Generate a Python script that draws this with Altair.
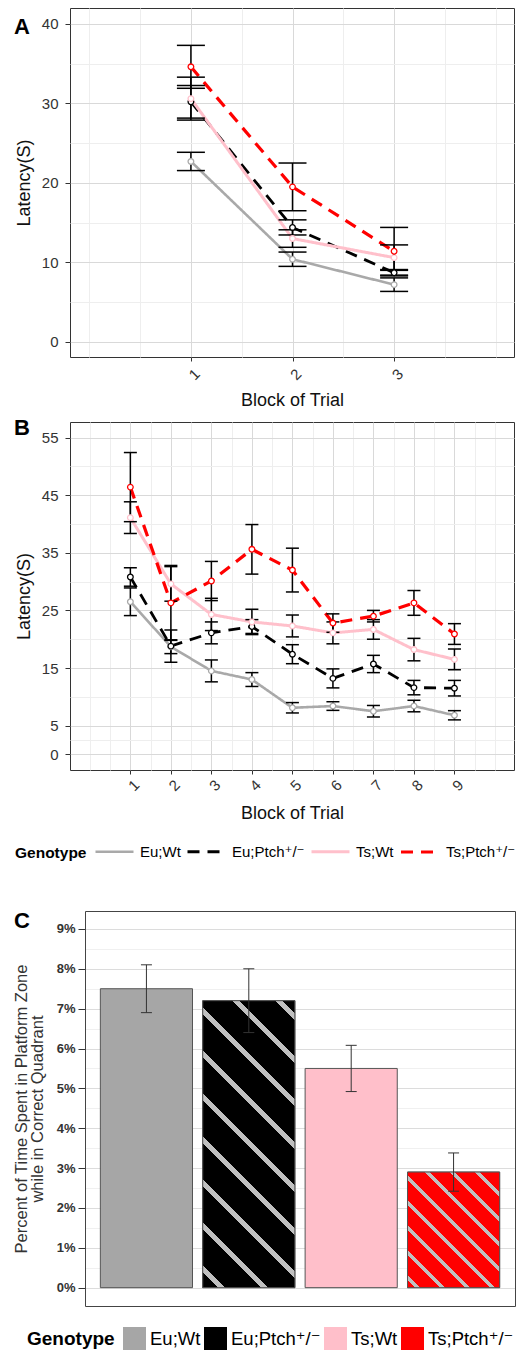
import altair as alt
import pandas as pd

FONT = "Liberation Sans, DejaVu Sans, sans-serif"
INK = "#111111"
DARK = "#333333"
GRID_MAJOR = "#d9d9d9"
GRID_MINOR = "#eeeeee"

genotypes = ["Eu;Wt", "Eu;Ptch⁺/⁻", "Ts;Wt", "Ts;Ptch⁺/⁻"]
line_colors = ["#a9a9a9", "#000000", "#ffc0cb", "#ff0000"]
line_dashes = [[1, 0], [12, 8], [1, 0], [12, 8]]
line_widths = [2.6, 3.2, 2.6, 3.2]
bar_colors = ["#a6a6a6", "#000000", "#ffbfca", "#ff0000"]
stripe_color = "#c0c0c0"

# ---------------- Panel A ----------------
blocks_a = [1, 2, 3]
a_eu_wt = [22.7, 10.4, 7.2]
a_eu_wt_se = [1.15, 0.9, 0.85]
a_eu_ptch = [30.2, 14.4, 8.7]
a_eu_ptch_se = [2.05, 0.95, 0.4]
a_ts_wt = [30.6, 13.0, 10.6]
a_ts_wt_se = [2.7, 1.1, 1.6]
a_ts_ptch = [34.6, 19.5, 11.4]
a_ts_ptch_se = [2.7, 3.0, 3.0]

# ---------------- Panel B ----------------
blocks_b = [1, 2, 3, 4, 5, 6, 7, 8, 9]
b_eu_wt = [26.5, 18.7, 14.5, 13.0, 8.1, 8.4, 7.5, 8.4, 6.8]
b_eu_wt_se = [2.4, 1.2, 1.9, 1.2, 0.9, 0.75, 1.0, 1.0, 0.8]
b_eu_ptch = [30.8, 18.8, 21.1, 22.2, 17.4, 13.2, 15.7, 11.6, 11.5]
b_eu_ptch_se = [1.6, 2.8, 1.9, 1.2, 1.65, 1.65, 1.5, 1.25, 1.35]
b_ts_wt = [41.1, 29.6, 24.3, 23.0, 22.3, 21.1, 21.7, 18.2, 16.5]
b_ts_wt_se = [2.75, 3.0, 2.8, 2.2, 1.9, 1.9, 1.7, 1.95, 1.8]
b_ts_ptch = [46.4, 26.3, 30.1, 35.6, 32.0, 22.8, 24.0, 26.3, 20.9]
b_ts_ptch_se = [6.0, 6.5, 3.4, 4.3, 3.8, 1.6, 1.0, 2.15, 1.8]

# ---------------- Panel C ----------------
c_pct = [0.075, 0.072, 0.055, 0.029]
c_se = [0.006, 0.008, 0.0058, 0.0048]

# axis tick values
a_xticks = [1, 2, 3]
a_xminor = [0, 0.5, 1.5, 2.5, 3.5, 4]
a_yticks = [0, 10, 20, 30, 40]
a_yminor = [5, 15, 25, 35]
b_xticks = blocks_b
b_xminor = [0, 0.5, 1.5, 2.5, 3.5, 4.5, 5.5, 6.5, 7.5, 8.5, 9.5, 10]
b_yticks = [0, 5, 15, 25, 35, 45, 55]
b_yminor = [2.5, 10, 20, 30, 40, 50]
c_yticks = [0, 0.01, 0.02, 0.03, 0.04, 0.05, 0.06, 0.07, 0.08, 0.09]
c_yminor = [0.005, 0.015, 0.025, 0.035, 0.045, 0.055, 0.065, 0.075, 0.085]


def long_df(blocks, means, ses):
    rows = []
    for g, vals, se in zip(genotypes, means, ses):
        for b, v, s in zip(blocks, vals, se):
            rows.append({"block": b, "mean": v, "lo": v - s, "hi": v + s, "Genotype": g})
    return pd.DataFrame(rows)


df_a = long_df(blocks_a, [a_eu_wt, a_eu_ptch, a_ts_wt, a_ts_ptch],
               [a_eu_wt_se, a_eu_ptch_se, a_ts_wt_se, a_ts_ptch_se])
df_b = long_df(blocks_b, [b_eu_wt, b_eu_ptch, b_ts_wt, b_ts_ptch],
               [b_eu_wt_se, b_eu_ptch_se, b_ts_wt_se, b_ts_ptch_se])
df_c = pd.DataFrame({
    "Genotype": genotypes,
    "pct": c_pct,
    "lo": [v - s for v, s in zip(c_pct, c_se)],
    "hi": [v + s for v, s in zip(c_pct, c_se)],
})
one_row = pd.DataFrame({"k": [0]})


def stripe_grad(w, h, base_color, n, frac, phase, stripe=stripe_color):
    """Diagonal (45 degree) stripes as a hard-stop linear gradient in bbox units."""
    c = (w + h) / (w * w + h * h)
    stops = [alt.GradientStop(color=base_color, offset=0.0)]
    period = 1.0 / n
    k = -1
    while (k + phase) * period < 1:
        s = (k + phase) * period
        e = s + frac * period
        s2, e2 = round(max(s, 0.0), 5), round(min(e, 1.0), 5)
        if e2 > s2:
            stops += [alt.GradientStop(color=base_color, offset=s2),
                      alt.GradientStop(color=stripe, offset=s2),
                      alt.GradientStop(color=stripe, offset=e2),
                      alt.GradientStop(color=base_color, offset=e2)]
        k += 1
    stops.append(alt.GradientStop(color=base_color, offset=1.0))
    return alt.LinearGradient(gradient="linear", stops=stops, x1=0, y1=1,
                              x2=round(c * w, 5), y2=round(1 - c * h, 5))


def letter(text, x, y, opacity=1.0, baseline="alphabetic"):
    return alt.Chart(one_row).mark_text(
        align="left", baseline=baseline, fontSize=22, fontWeight="bold",
        color="#000000", font=FONT, opacity=opacity
    ).encode(text=alt.value(text), x=alt.value(x), y=alt.value(y))


def line_panel(df, xdom, xticks, xminor, ydom, yticks, yminor, w, h, cap,
               label_pad, letter_layer, legend):
    xs = alt.Scale(domain=xdom, nice=False, zero=False)
    ys = alt.Scale(domain=ydom, nice=False, zero=False)
    base = alt.Chart(df)
    main_x = alt.Axis(orient="bottom", values=xticks, format="d", grid=True,
                      gridColor=GRID_MAJOR, domain=False, tickColor=DARK, tickSize=4,
                      labelAngle=-45, labelAlign="center", labelBaseline="middle",
                      labelPadding=label_pad, labelOffset=3, labelFontSize=15,
                      labelColor=DARK, title="Block of Trial", titleFontSize=18,
                      titleFontWeight="normal", titleColor=INK, titleY=48,
                      titleBaseline="alphabetic")
    main_y = alt.Axis(orient="left", values=yticks, grid=True, gridColor=GRID_MAJOR,
                      domain=False, tickColor=DARK, tickSize=5, labelPadding=7,
                      labelFontSize=15, labelColor=DARK, title="Latency(S)",
                      titleFontSize=18, titleFontWeight="normal", titleColor=INK,
                      titleX=-46, titleBaseline="middle")
    minor_x = alt.Axis(orient="top", values=xminor, grid=True, gridColor=GRID_MINOR,
                       domain=False, ticks=False, labels=False, title=None)
    minor_y = alt.Axis(orient="right", values=yminor, grid=True, gridColor=GRID_MINOR,
                       domain=False, ticks=False, labels=False, title=None)
    color = alt.Color("Genotype:N", scale=alt.Scale(domain=genotypes, range=line_colors),
                      legend=legend)
    dash = alt.StrokeDash("Genotype:N", scale=alt.Scale(domain=genotypes, range=line_dashes),
                          legend=legend)
    sw = alt.StrokeWidth("Genotype:N", scale=alt.Scale(domain=genotypes, range=line_widths),
                         legend=None)
    grid_layer = base.mark_point(opacity=0).encode(
        x=alt.X("block:Q", scale=xs, axis=minor_x),
        y=alt.Y("mean:Q", scale=ys, axis=minor_y))
    lines = base.mark_line().encode(
        x=alt.X("block:Q", scale=xs, axis=main_x),
        y=alt.Y("mean:Q", scale=ys, axis=main_y),
        color=color, strokeDash=dash, strokeWidth=sw)
    rules = base.mark_rule(color="#000000", strokeWidth=1.5).encode(
        x=alt.X("block:Q", scale=xs, axis=None),
        y=alt.Y("lo:Q", scale=ys, axis=None), y2="hi:Q")
    caps_lo = base.mark_tick(orient="horizontal", size=cap, thickness=1.5,
                             color="#000000", opacity=1).encode(
        x=alt.X("block:Q", scale=xs, axis=None),
        y=alt.Y("lo:Q", scale=ys, axis=None))
    caps_hi = base.mark_tick(orient="horizontal", size=cap, thickness=1.5,
                             color="#000000", opacity=1).encode(
        x=alt.X("block:Q", scale=xs, axis=None),
        y=alt.Y("hi:Q", scale=ys, axis=None))
    points = base.mark_point(shape="circle", size=32, strokeWidth=1.3, opacity=1).encode(
        x=alt.X("block:Q", scale=xs, axis=None),
        y=alt.Y("mean:Q", scale=ys, axis=None),
        stroke=alt.Stroke("Genotype:N", scale=alt.Scale(domain=genotypes, range=line_colors),
                          legend=None),
        fill=alt.value("white"))
    return alt.layer(grid_layer, lines, rules, caps_lo, caps_hi, points,
                     letter_layer).resolve_axis(
        x="independent", y="independent").properties(width=w, height=h)


# ---------------- Panel C geometry ----------------
C_W, C_H = 445, 395
C_RANGE = [15, 445]
C_PAD_IN, C_PAD_OUT = 0.1, 0.15
C_YDOM = [-0.0046, 0.0945]
step = (C_RANGE[1] - C_RANGE[0]) / (len(genotypes) - C_PAD_IN + 2 * C_PAD_OUT)
band_w = step * (1 - C_PAD_IN)
px_per = C_H / (C_YDOM[1] - C_YDOM[0])
SWATCH = 23

legend_b = alt.Legend(title="Genotype", orient="none", legendX=-55, legendY=409,
                      direction="horizontal", titleOrient="left", titleBaseline="top",
                      titleFontSize=15.5, titleFontWeight="bold",
                      titleColor="#000000", titlePadding=7, labelFontSize=15,
                      labelColor="#000000", symbolType="stroke", symbolSize=1444,
                      symbolStrokeWidth=2.6, columnPadding=0, labelOffset=5, padding=0)

panel_a = line_panel(df_a, [-0.19, 4.18], a_xticks, a_xminor, [-1.9, 42.0], a_yticks,
                     a_yminor, 444, 349, 28, 13, letter("A", -56, 26), None)
panel_b = line_panel(df_b, [-0.49, 10.47], b_xticks, b_xminor, [-2.7, 57.7], b_yticks,
                     b_yminor, 444, 348, 13, 11, letter("B", -56, 13), legend_b)

xs_c = alt.Scale(domain=genotypes, range=C_RANGE, paddingInner=C_PAD_IN,
                 paddingOuter=C_PAD_OUT)
ys_c = alt.Scale(domain=C_YDOM, nice=False, zero=False)

legend_c = alt.Legend(title="Genotype", orient="none", legendX=-43, legendY=416,
                      direction="horizontal", titleOrient="left", titleBaseline="middle",
                      titleFontSize=19, titleFontWeight="bold",
                      titleColor="#000000", titlePadding=8, labelFontSize=18.5,
                      labelColor="#000000", symbolType="square",
                      symbolSize=SWATCH * SWATCH, symbolStrokeWidth=0,
                      columnPadding=3, labelOffset=4, padding=0)

c_x_bottom = alt.Axis(orient="bottom", labels=False, ticks=False, domain=True,
                      domainColor="#444444", domainWidth=1, grid=False, title=None)
c_x_top = alt.Axis(orient="top", labels=False, ticks=False, domain=True,
                   domainColor="#444444", domainWidth=1, grid=False, title=None)
c_y_main = alt.Axis(orient="left", offset=-15, values=c_yticks, format=".0%",
                    grid=True, gridColor="#dcdcdc", domain=True,
                    domainColor="#444444", tickColor=DARK, tickSize=7,
                    labelPadding=3, labelFontSize=13, labelFontWeight="bold",
                    labelColor=DARK,
                    title=["Percent of Time Spent in Platform Zone",
                           "while in Correct Quadrant"],
                    titleFontSize=16.5, titleFontWeight="normal", titleColor=DARK,
                    titleX=-64, titleBaseline="middle", titleLineHeight=16)
c_y_right = alt.Axis(orient="right", labels=False, ticks=False, domain=True,
                     domainColor="#444444", grid=False, title=None)
c_y_minor = alt.Axis(orient="left", offset=-15, values=c_yminor, labels=False,
                     ticks=False, domain=False, grid=True, gridColor="#f0f0f0",
                     title=None)

base_c = alt.Chart(df_c)
bars = base_c.mark_bar(stroke="#555555", strokeWidth=1).encode(
    x=alt.X("Genotype:N", sort=genotypes, scale=xs_c, axis=c_x_bottom),
    y=alt.Y("pct:Q", scale=ys_c, axis=c_y_main),
    color=alt.Color("Genotype:N", sort=genotypes,
                    scale=alt.Scale(domain=genotypes, range=bar_colors),
                    legend=legend_c))
stripes_eu = base_c.transform_filter(alt.datum.Genotype == genotypes[1]).mark_bar(
    fill=stripe_grad(band_w, c_pct[1] * px_per, "#000000", 8.8, 0.16, 0.35),
    stroke="#555555", strokeWidth=1).encode(
    x=alt.X("Genotype:N", sort=genotypes, scale=xs_c, axis=None),
    y=alt.Y("pct:Q", scale=ys_c, axis=None))
stripes_ts = base_c.transform_filter(alt.datum.Genotype == genotypes[3]).mark_bar(
    fill=stripe_grad(band_w, c_pct[3] * px_per, "#ff0000", 8.3, 0.2, 0.3),
    stroke="#555555", strokeWidth=1).encode(
    x=alt.X("Genotype:N", sort=genotypes, scale=xs_c, axis=None),
    y=alt.Y("pct:Q", scale=ys_c, axis=None))
err_rule = base_c.mark_rule(color="#333333", strokeWidth=1).encode(
    x=alt.X("Genotype:N", sort=genotypes, scale=xs_c, axis=None),
    y=alt.Y("lo:Q", scale=ys_c, axis=c_y_right), y2="hi:Q")
err_lo = base_c.mark_tick(orient="horizontal", size=11, thickness=1,
                          color="#333333", opacity=1).encode(
    x=alt.X("Genotype:N", sort=genotypes, scale=xs_c, axis=c_x_top),
    y=alt.Y("lo:Q", scale=ys_c, axis=None))
err_hi = base_c.mark_tick(orient="horizontal", size=11, thickness=1,
                          color="#333333", opacity=1).encode(
    x=alt.X("Genotype:N", sort=genotypes, scale=xs_c, axis=None),
    y=alt.Y("hi:Q", scale=ys_c, axis=c_y_minor))

panel_c = alt.layer(bars, stripes_eu, stripes_ts, err_rule, err_lo, err_hi,
                    letter("C", -56, 17),
                    letter("C", -56, -40, opacity=0, baseline="top")).resolve_axis(
    x="independent", y="independent").properties(
    width=C_W, height=C_H, view=alt.ViewBackground(stroke="transparent"))

chart = alt.vconcat(panel_a, panel_b, panel_c, spacing=6).resolve_scale(
    color="independent", strokeDash="independent", strokeWidth="independent",
    stroke="independent", x="independent", y="independent"
).configure(
    font=FONT, background="white",
    padding={"left": 12, "top": 7, "right": 0, "bottom": 0}
).configure_view(stroke=DARK, strokeWidth=1).configure_axis(
    labelFont=FONT, titleFont=FONT).configure_legend(
    labelFont=FONT, titleFont=FONT).configure_title(font=FONT)

chart.save("out.html", embed_options={"renderer": "svg", "actions": False})
